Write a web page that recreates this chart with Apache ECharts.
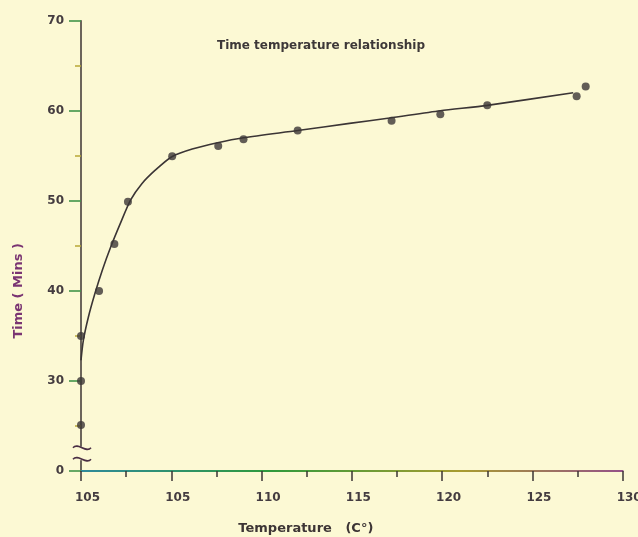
<!DOCTYPE html>
<html><head><meta charset="utf-8">
<script src="https://cdn.jsdelivr.net/npm/echarts@6/dist/echarts.min.js"></script>
<style>html,body{margin:0;padding:0;background:#fcf9d4}#c{width:638px;height:537px}</style>
</head><body><div id="c"></div>
<script>
const titleText = 'Time temperature relationship';
const xAxisTitle = 'Temperature   (C°)';
const yAxisTitle = 'Time ( Mins )';
const xTickValues = [100, 105, 110, 115, 120, 125, 130];
const xTickLabels = ['105', '105', '110', '115', '120', '125', '130'];
const yTickValues = [20, 30, 40, 50, 60, 70];
const yTickLabels = ['0', '30', '40', '50', '60', '70'];
const obsTemp = [100, 100, 100, 101.0, 101.85, 102.6, 105.05, 107.6, 109.0, 112.0, 117.2, 119.9, 122.5, 127.45, 127.95];
const obsTime = [35.0, 30.0, 25.1, 40.0, 45.2, 49.9, 54.95, 56.1, 56.85, 57.8, 58.9, 59.6, 60.6, 61.6, 62.7];
const curveTemp = [100.0, 100.13, 100.41, 100.77, 101.18, 101.65, 102.18, 102.75, 103.37, 104.11, 105.03, 106.16, 107.56, 109.0, 112.0, 114.87, 117.09, 119.9, 122.5, 127.26];
const curveTime = [32.3, 34.5, 37.1, 39.7, 42.3, 44.9, 47.5, 50.1, 51.9, 53.4, 54.9, 55.75, 56.45, 57.0, 57.8, 58.6, 59.2, 60.0, 60.6, 62.0];
const breakLow = 21.2, breakHigh = 22.7;

const BG = '#fcf9d4';
const INK = '#3b3535';
const FONT = 'DejaVu Sans';

const chart = echarts.init(document.getElementById('c'), null, {renderer: 'canvas'});
const option = {
  backgroundColor: BG,
  animation: false,
  title: {
    text: titleText, left: 316, top: 35, textAlign: 'center',
    textStyle: {fontFamily: FONT, fontSize: 12, fontWeight: 'bold', color: '#3d3838'}
  },
  grid: {left: 81, right: 15.3, top: 20.7, bottom: 66, containLabel: false, outerBoundsMode: 'none'},
  xAxis: {
    type: 'value', min: 100, max: 130, interval: 5,
    name: xAxisTitle, nameLocation: 'middle', nameGap: 51,
    nameTextStyle: {fontFamily: FONT, fontSize: 13, fontWeight: 'bold', color: '#3d3535', padding: [0, 92, 0, 0]},
    axisLine: {lineStyle: {width: 2, color: new echarts.graphic.LinearGradient(0, 0, 1, 0, [
      {offset: 0, color: '#2f8a9c'}, {offset: 0.35, color: '#2f9a3c'}, {offset: 0.7, color: '#a89c30'}, {offset: 1, color: '#94508a'}])}},
    axisTick: {show: true, length: 10, lineStyle: {color: INK, width: 1.5}},
    minorTick: {show: true, splitNumber: 2, length: 6, lineStyle: {color: INK, width: 1.5}},
    splitLine: {show: false},
    axisLabel: {
      formatter: v => { const i = xTickValues.indexOf(v); return i >= 0 ? xTickLabels[i] : ''; },
      margin: 21, padding: [0, 0, 0, 13], fontFamily: FONT, fontSize: 12, fontWeight: 'bold', color: '#443c40'
    }
  },
  yAxis: {
    type: 'value', min: 20, max: 70, interval: 10,
    name: yAxisTitle, nameLocation: 'middle', nameGap: 56, nameRotate: 90,
    nameTextStyle: {fontFamily: FONT, fontSize: 13, fontWeight: 'bold', color: '#7a3572', padding: [0, 90, 0, 0]},
    axisLine: {lineStyle: {width: 1.5, color: '#3d3333'}},
    axisTick: {show: true, length: 12, lineStyle: {color: '#3f9448', width: 1.6}},
    minorTick: {show: true, splitNumber: 2, length: 6, lineStyle: {color: '#b8a836', width: 1.5}},
    splitLine: {show: false},
    axisLabel: {
      formatter: v => { const i = yTickValues.indexOf(v); return i >= 0 ? yTickLabels[i] : ''; },
      margin: 17, fontFamily: FONT, fontSize: 12, fontWeight: 'bold', color: '#443c40'
    }
  },
  series: [
    {
      type: 'line', name: 'fit', data: curveTemp.map((t, i) => [t, curveTime[i]]),
      smooth: 0.25, showSymbol: false, symbol: 'none',
      lineStyle: {color: INK, width: 1.6}, z: 3
    },
    {
      type: 'scatter', name: 'observed', data: obsTemp.map((t, i) => [t, obsTime[i]]),
      symbol: 'circle', symbolSize: 8, itemStyle: {color: '#3b3636'}, z: 4
    }
  ]
};
chart.setOption(option);

// axis break decoration on the y axis
const p0 = chart.convertToPixel({xAxisIndex: 0, yAxisIndex: 0}, [100, breakHigh]);
const p1 = chart.convertToPixel({xAxisIndex: 0, yAxisIndex: 0}, [100, breakLow]);
const ax = p0[0] + 1;
const yTop = p0[1], yBot = p1[1];
function wave(cx, cy) {
  return {
    type: 'bezierCurve',
    shape: {x1: cx - 9, y1: cy - 1, x2: cx + 9, y2: cy - 1, cpx1: cx - 4, cpy1: cy - 7, cpx2: cx + 4, cpy2: cy + 5},
    style: {fill: null, stroke: '#4a2f45', lineWidth: 1.6}, z: 101
  };
}
chart.setOption({
  graphic: [
    {type: 'rect', shape: {x: ax - 8, y: yTop, width: 12, height: yBot - yTop}, style: {fill: BG}, z: 100},
    wave(ax, yTop + 2),
    wave(ax, yBot)
  ]
});
</script></body></html>
